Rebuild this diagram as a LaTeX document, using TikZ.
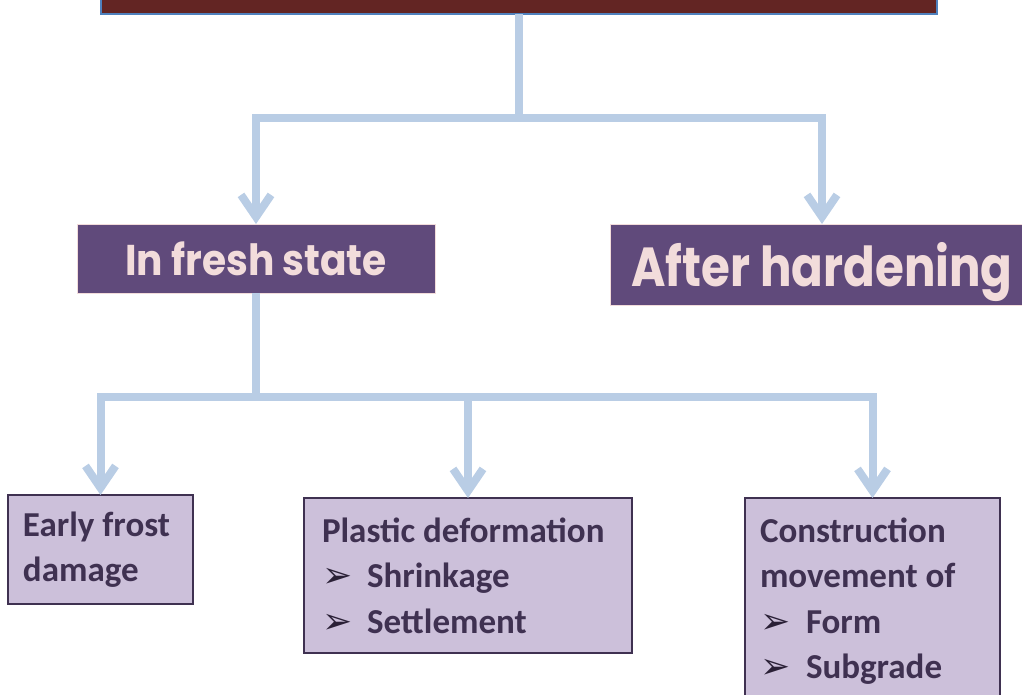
\documentclass[tikz,border=0pt]{standalone}
\usepackage{fontspec}
\setmainfont{Carlito}
\newfontfamily\headfont{Poppins}
\newfontfamily\symfont{DejaVu Sans}
\usetikzlibrary{arrows.meta}
\definecolor{linkblue}{HTML}{B9CDE5}
\definecolor{titlered}{HTML}{632523}
\definecolor{titleedge}{HTML}{4F81BD}
\definecolor{headfill}{HTML}{604A7B}
\definecolor{headtext}{HTML}{F2DCDB}
\definecolor{leaffill}{HTML}{CCC0DA}
\definecolor{leafink}{HTML}{3F3151}
\definecolor{bulink}{HTML}{2A2036}
% bullet mark used in the leaf boxes
\newcommand{\bul}[1]{\makebox[#1][l]{\color{bulink}\symfont\fontsize{36}{36}\selectfont ➢}}
\begin{document}
\begin{tikzpicture}[x=1pt,y=-1pt,
  link/.style={draw=linkblue, line width=8pt},
  tip/.style={-{Straight Barb[length=22pt,width=30pt]}},
  tips/.style={{Straight Barb[length=22pt,width=30pt]}-{Straight Barb[length=22pt,width=30pt]}},
  titlebox/.style={draw=titleedge, line width=1.5pt, fill=titlered, outer sep=0pt,
    minimum width=836pt, minimum height=100pt, inner sep=0pt},
  headbox/.style={draw=headtext, line width=1pt, fill=headfill, text=headtext,
    outer sep=0pt, inner sep=0pt, font=\headfont\bfseries},
  leafbox/.style={draw=leafink, line width=2pt, fill=leaffill, text=leafink,
    outer sep=0pt, inner ysep=0pt, align=flush left,
    font=\bfseries\fontsize{35}{45.5}\selectfont}]
\useasboundingbox (0,0) rectangle (1022,695);
\clip (0,0) rectangle (1022,695);

% top box, only its lower edge lies inside the page
\node[titlebox] (title) at (519,-36) {};

% second level
\node[headbox, minimum width=358pt, minimum height=69pt,
  font=\headfont\bfseries\fontsize{43}{43}\selectfont, text depth=0pt] (fresh) at (256,258.5)
  {\scalebox{0.91}[1]{In fresh state}};
\node[headbox, minimum width=424pt, minimum height=81pt,
  font=\headfont\bfseries\fontsize{55}{55}\selectfont, text depth=0pt] (hard) at (822,264.5)
  {\scalebox{0.85}[1]{After hardening}};

% third level
\node[leafbox, inner xsep=15pt, text width=155pt, minimum height=109pt] (frost) at (100.5,549.5)
  {Early frost\\damage};
\node[leafbox, inner xsep=18pt, text width=292pt, minimum height=155pt] (plastic) at (468,575.5)
  {Plastic deformation\\\bul{45pt}Shrinkage\\\bul{45pt}Settlement};
\node[leafbox, inner xsep=15pt, text width=225pt, minimum height=206pt] (constr) at (872.5,601)
  {Construction\\movement of\\\bul{46pt}Form\\\bul{46pt}Subgrade};

% connectors
\coordinate (j1) at (519,118);
\coordinate (j2) at (256,397);
\draw[link] (title.south) -- (j1);
\draw[link, tips] (fresh.north) -- (fresh.north |- j1) -- (hard.north |- j1) -- (hard.north);
\draw[link] (fresh.south) -- (j2);
\draw[link, tips] (frost.north) -- (frost.north |- j2) -- (constr.north |- j2) -- (constr.north);
\draw[link, tip] (plastic.north |- j2) -- (plastic.north);
\end{tikzpicture}
\end{document}
